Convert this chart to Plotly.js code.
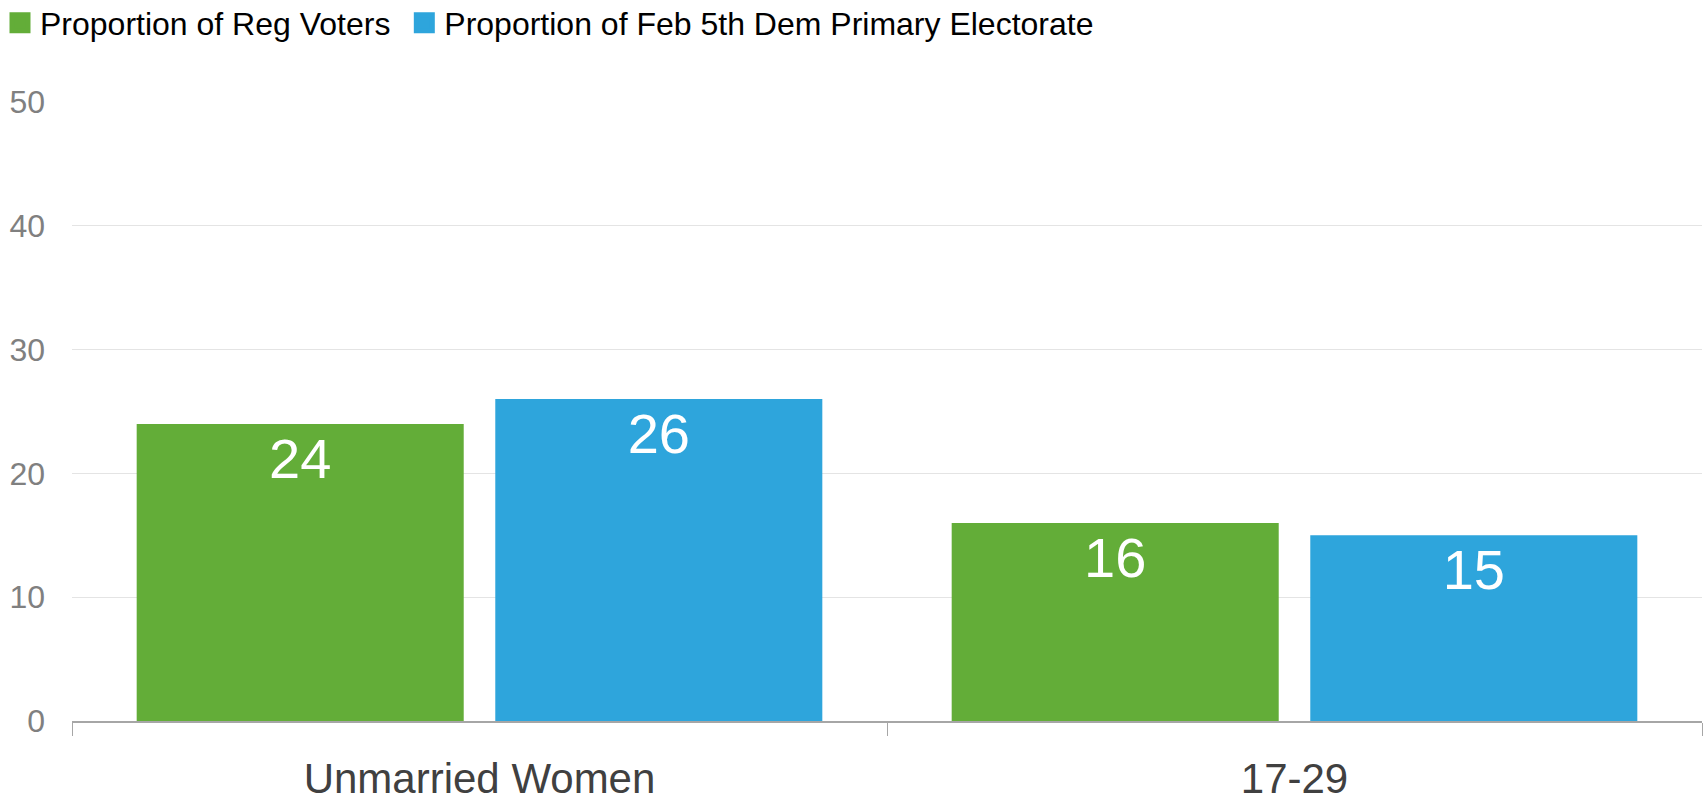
<!DOCTYPE html>
<html>
<head>
<meta charset="utf-8">
<script src="https://cdn.plot.ly/plotly-3.0.1.min.js"></script>
<style>html,body{margin:0;padding:0;background:#fff;}#chart{width:1704px;height:803px;}</style>
</head>
<body>
<div id="chart"></div>
<script>
const categories = ["Unmarried Women", "17-29"];
const seriesNames = ["Proportion of Reg Voters", "Proportion of Feb 5th Dem Primary Electorate"];
const regVoters = [24, 16];
const primaryElectorate = [26, 15];
const yTicks = [0, 10, 20, 30, 40, 50];

const colors = ["#63AD38", "#2EA5DC"];
const valueSets = [regVoters, primaryElectorate];
const FONT = "Liberation Sans, Arial, sans-serif";

const barTraces = valueSets.map((vals, i) => ({
  type: "bar",
  name: seriesNames[i],
  legendgroup: "g" + i,
  showlegend: false,
  x: categories,
  y: vals,
  text: vals.map(String),
  texttemplate: "%{text}",
  textposition: "inside",
  insidetextanchor: "end",
  textangle: 0,
  insidetextfont: {family: FONT, size: 56, color: "#ffffff"},
  marker: {color: colors[i], line: {width: 0}},
  hoverinfo: "x+y+name"
}));

// legend-only entries (square swatches)
const legendTraces = seriesNames.map((nm, i) => ({
  type: "scatter",
  mode: "markers",
  name: nm + (i < seriesNames.length - 1 ? "\u00a0" : ""),
  legendgroup: "g" + i,
  showlegend: true,
  x: [null],
  y: [null],
  marker: {symbol: "square", size: 16, color: colors[i], line: {width: 5, color: colors[i]}},
  hoverinfo: "skip"
}));

const layout = {
  width: 1704,
  height: 803,
  margin: {l: 72, r: 2, t: 102, b: 82, pad: 0, autoexpand: false},
  paper_bgcolor: "#ffffff",
  plot_bgcolor: "#ffffff",
  font: {family: FONT, color: "#404040"},
  barmode: "group",
  bargap: 0.12,
  bargroupgap: 0.088,
  showlegend: true,
  legend: {
    orientation: "h",
    xref: "container", yref: "paper",
    x: 0, y: 1.172, xanchor: "left", yanchor: "top",
    font: {family: FONT, size: 32, color: "#000000"},
    bgcolor: "rgba(0,0,0,0)",
    itemclick: false, itemdoubleclick: false,
    traceorder: "normal"
  },
  xaxis: {
    type: "category",
    showline: true, linecolor: "#A6A6A6", linewidth: 2,
    ticks: "outside", tickson: "boundaries", ticklen: 13, tickwidth: 1, tickcolor: "#A6A6A6",
    tickfont: {family: FONT, size: 42, color: "#404040"},
    showgrid: false, zeroline: false,
    ticklabelstandoff: 20
  },
  yaxis: {
    range: [0, 50],
    tickvals: yTicks,
    ticktext: yTicks.map(String),
    showgrid: true, gridcolor: "#E4E4E4", gridwidth: 1,
    zeroline: false, showline: false,
    ticks: "",
    tickfont: {family: FONT, size: 32, color: "#808080"},
    ticklabelstandoff: 26
  }
};

Plotly.newPlot("chart", barTraces.concat(legendTraces), layout, {displayModeBar: false, staticPlot: true});
</script>
</body>
</html>
